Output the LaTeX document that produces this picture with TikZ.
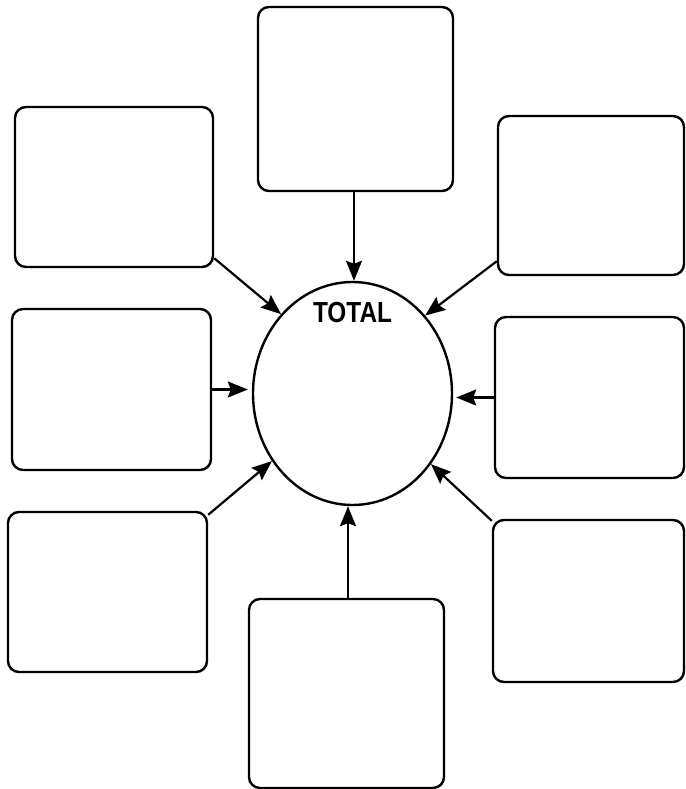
\documentclass[tikz,border=0pt]{standalone}
\usepackage{fontspec}
\setmainfont{Liberation Sans}
\usetikzlibrary{arrows.meta,shapes.geometric}

\begin{document}
\begin{tikzpicture}[x=1pt,y=-1pt,
  card/.style={draw=black, line width=2.4pt, rounded corners=11pt,
    rectangle, inner sep=0pt, fill=white},
  hub/.style={draw=black, line width=2.4pt, ellipse, inner sep=0pt,
    minimum width=199pt, minimum height=223pt},
  feed/.style={line width=2.2pt,
    -{Stealth[length=20pt,width=16pt,inset=3pt]}},
  label/.style={font=\bfseries\fontsize{29}{29}\selectfont, inner sep=0pt}
]
  % page frame
  \useasboundingbox (0,0) rectangle (685,789);

  % central ellipse with its title
  \node[hub] (total) at (352.5,393.5) {};
  \node[label] (title) at (352.5,313) {\scalebox{0.84}[1]{TOTAL}};

  % surrounding boxes
  \node[card, minimum width=195pt, minimum height=184pt] (top) at (355.5,99) {};
  \node[card, minimum width=198pt, minimum height=160pt] (tl)  at (114,187) {};
  \node[card, minimum width=186pt, minimum height=159pt] (tr)  at (591,195.5) {};
  \node[card, minimum width=199pt, minimum height=161pt] (ml)  at (111.5,389.5) {};
  \node[card, minimum width=189pt, minimum height=161pt] (mr)  at (589.5,397.5) {};
  \node[card, minimum width=199pt, minimum height=160pt] (bl)  at (107.5,592) {};
  \node[card, minimum width=191pt, minimum height=162pt] (br)  at (588.5,601) {};
  \node[card, minimum width=195pt, minimum height=189pt] (bot) at (346.5,693.5) {};

  % arrows pointing into the ellipse
  \draw[feed] ([xshift=-1.5pt]top.south) -- ([xshift=-1.5pt]top.south |- total.north);
  \draw[feed] ([yshift=10pt]tl.south east) -- (total.132);
  \draw[feed] ([yshift=15pt]tr.south west) -- (total.47);
  \draw[feed, shorten >=4pt] (ml.east) -- (ml.east -| total.west);
  \draw[feed, shorten >=3pt] (mr.west) -- (mr.west -| total.east);
  \draw[feed] ([yshift=-4pt]bl.north east) -- (total.220);
  \draw[feed] ([yshift=-2pt]br.north west) -- (total.-42);
  \draw[feed] ([xshift=1.5pt]bot.north) -- ([xshift=1.5pt]bot.north |- total.south);
\end{tikzpicture}
\end{document}
